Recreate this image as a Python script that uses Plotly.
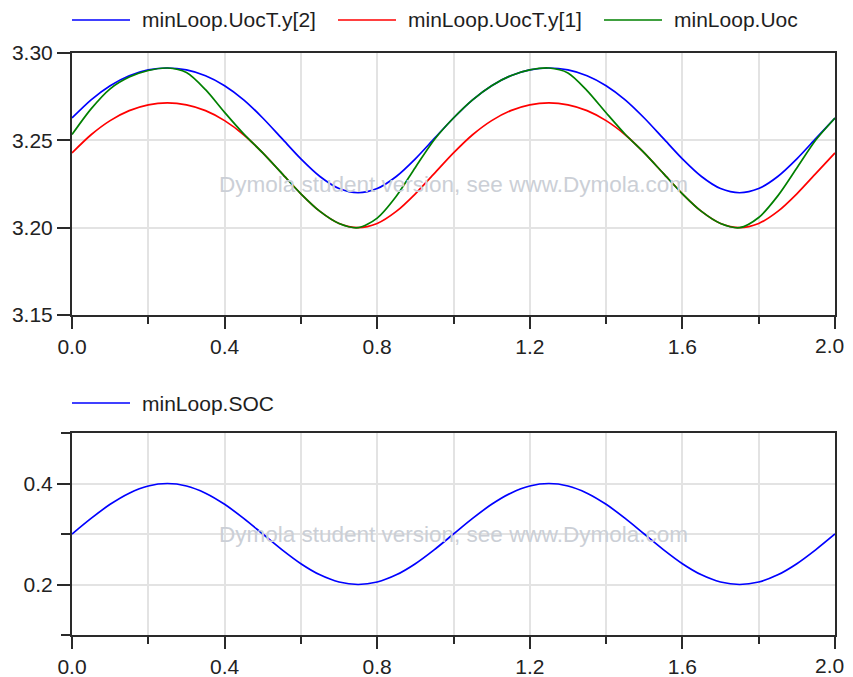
import plotly.graph_objects as go

# ---------------- data ----------------
time = [round(0.05 * i, 2) for i in range(41)]

uoc_y2 = [3.2628, 3.2732, 3.2813, 3.2870, 3.2903, 3.2914, 3.2903, 3.2870, 3.2813, 3.2732,
          3.2628, 3.2511, 3.2394, 3.2293, 3.2224, 3.2200, 3.2224, 3.2293, 3.2394, 3.2511,
          3.2628, 3.2732, 3.2813, 3.2870, 3.2903, 3.2914, 3.2903, 3.2870, 3.2813, 3.2732,
          3.2628, 3.2511, 3.2394, 3.2293, 3.2224, 3.2200, 3.2224, 3.2293, 3.2394, 3.2511,
          3.2628]

uoc_y1 = [3.2428, 3.2532, 3.2613, 3.2670, 3.2703, 3.2714, 3.2703, 3.2670, 3.2613, 3.2532,
          3.2428, 3.2311, 3.2194, 3.2093, 3.2024, 3.2000, 3.2024, 3.2093, 3.2194, 3.2311,
          3.2428, 3.2532, 3.2613, 3.2670, 3.2703, 3.2714, 3.2703, 3.2670, 3.2613, 3.2532,
          3.2428, 3.2311, 3.2194, 3.2093, 3.2024, 3.2000, 3.2024, 3.2093, 3.2194, 3.2311,
          3.2428]

uoc = [3.2533, 3.2680, 3.2795, 3.2862, 3.2900, 3.2914, 3.2888, 3.2790, 3.2660, 3.2537,
       3.2428, 3.2311, 3.2194, 3.2093, 3.2024, 3.2000, 3.2055, 3.2180, 3.2345, 3.2505,
       3.2628, 3.2732, 3.2813, 3.2870, 3.2903, 3.2914, 3.2886, 3.2785, 3.2658, 3.2535,
       3.2428, 3.2311, 3.2194, 3.2093, 3.2024, 3.2000, 3.2058, 3.2182, 3.2342, 3.2503,
       3.2628]

soc = [0.3000, 0.3309, 0.3588, 0.3809, 0.3951, 0.4000, 0.3951, 0.3809, 0.3588, 0.3309,
       0.3000, 0.2691, 0.2412, 0.2191, 0.2049, 0.2000, 0.2049, 0.2191, 0.2412, 0.2691,
       0.3000, 0.3309, 0.3588, 0.3809, 0.3951, 0.4000, 0.3951, 0.3809, 0.3588, 0.3309,
       0.3000, 0.2691, 0.2412, 0.2191, 0.2049, 0.2000, 0.2049, 0.2191, 0.2412, 0.2691,
       0.3000]

x_tickvals = [0.0, 0.4, 0.8, 1.2, 1.6, 2.0]
x_ticktext = ["0.0", "0.4", "0.8", "1.2", "1.6", "2.0"]

top_names = ["minLoop.UocT.y[2]", "minLoop.UocT.y[1]", "minLoop.Uoc"]
top_colors = ["#0000ff", "#ff0000", "#008000"]
bottom_names = ["minLoop.SOC"]
bottom_colors = ["#0000ff"]
watermark = "Dymola student version, see www.Dymola.com"

# ---------------- figure ----------------
# page has an 8px body margin, so the figure is shrunk/offset to land where the reference is
OFF = 8
W, H = 853 - OFF, 677 - OFF
PLOT_L, PLOT_R = 72, 835          # page pixels of plot area edges
TOP_T, TOP_B = 53, 315
BOT_T, BOT_B = 433, 635
VISIBLE_R = 845                   # rightmost visible page pixel
ML, MR, MT, MB = PLOT_L - OFF, 853 - PLOT_R, TOP_T - OFF, (OFF + H) - BOT_B
PW, PH = W - ML - MR, H - MT - MB

def px_x(p):
    return (p - PLOT_L) / PW

def px_y(p):
    return (BOT_B - p) / PH

FONT = "Liberation Sans, Arial, sans-serif"
TICKFONT = dict(family=FONT, size=21, color="#222222")
fig = go.Figure()

for name, col, ys in zip(top_names, top_colors, [uoc_y2, uoc_y1, uoc]):
    fig.add_trace(go.Scatter(x=time, y=ys, name=name, mode="lines",
                             line=dict(color=col, width=1.7, shape="spline", smoothing=0.8),
                             xaxis="x", yaxis="y", showlegend=False))
for name, col, ys in zip(bottom_names, bottom_colors, [soc]):
    fig.add_trace(go.Scatter(x=time, y=ys, name=name, mode="lines",
                             line=dict(color=col, width=1.7, shape="spline", smoothing=0.8),
                             xaxis="x2", yaxis="y2", showlegend=False))

axis_common = dict(showline=True, linecolor="#2a2a2a", linewidth=2, mirror=True,
                   ticks="outside", tickcolor="#2a2a2a", tickwidth=2, automargin=False,
                   showgrid=True, gridcolor="#e3e3e3", gridwidth=1.5, zeroline=False,
                   tickfont=TICKFONT)

# last x label is drawn as an annotation so it is not clipped at the page edge
xcommon = dict(axis_common, range=[0, 2], tickmode="array", tickvals=x_tickvals,
               ticktext=x_ticktext[:-1] + [""], ticklen=12,
               minor=dict(tick0=0, dtick=0.2, ticklen=7, ticks="outside", tickcolor="#2a2a2a",
                          tickwidth=2, showgrid=True, gridcolor="#e3e3e3", gridwidth=1.5))

fig.update_layout(
    width=W, height=H,
    margin=dict(l=ML, r=MR, t=MT, b=MB),
    paper_bgcolor="white", plot_bgcolor="white",
    xaxis=dict(xcommon, domain=[0, 1], anchor="y"),
    yaxis=dict(axis_common, domain=[px_y(TOP_B), px_y(TOP_T)], anchor="x",
               range=[3.15, 3.30], tick0=3.15, dtick=0.05, tickformat=".2f", ticklen=13),
    xaxis2=dict(xcommon, domain=[0, 1], anchor="y2"),
    yaxis2=dict(axis_common, domain=[px_y(BOT_B), px_y(BOT_T)], anchor="x2",
                range=[0.1, 0.5], tick0=0, dtick=0.2, tickformat=".1f", ticklen=13,
                minor=dict(tick0=0, dtick=0.1, ticklen=9, ticks="outside", tickcolor="#2a2a2a",
                           tickwidth=2, showgrid=True, gridcolor="#e3e3e3", gridwidth=1.5)),
    showlegend=False,
)

for axis_px in (TOP_B, BOT_B):
    fig.add_annotation(text=x_ticktext[-1], xref="paper", yref="paper",
                       x=px_x(VISIBLE_R), y=px_y(axis_px + 30), xanchor="right", yanchor="middle",
                       showarrow=False, font=TICKFONT, borderpad=0)

# watermarks
for xr, yr in [("x domain", "y domain"), ("x2 domain", "y2 domain")]:
    fig.add_annotation(text=watermark, xref=xr, yref=yr, x=0.5, y=0.5,
                       showarrow=False, font=dict(family=FONT, size=22.5, color="#cbcfd6"))

# custom legends (long line samples like Dymola)
legend_rows = [
    (20, top_names, top_colors, [72, 338, 604]),
    (403, bottom_names, bottom_colors, [72]),
]
for ypx, names, cols, starts in legend_rows:
    for name, col, sx in zip(names, cols, starts):
        fig.add_shape(type="line", xref="paper", yref="paper",
                      x0=px_x(sx), x1=px_x(sx + 58), y0=px_y(ypx), y1=px_y(ypx),
                      line=dict(color=col, width=1.7))
        fig.add_annotation(text=name, xref="paper", yref="paper",
                           x=px_x(sx + 68), y=px_y(ypx), xanchor="left", yanchor="middle",
                           showarrow=False, font=dict(family=FONT, size=21, color="#1e1e1e"))

fig.write_html("out.html")
